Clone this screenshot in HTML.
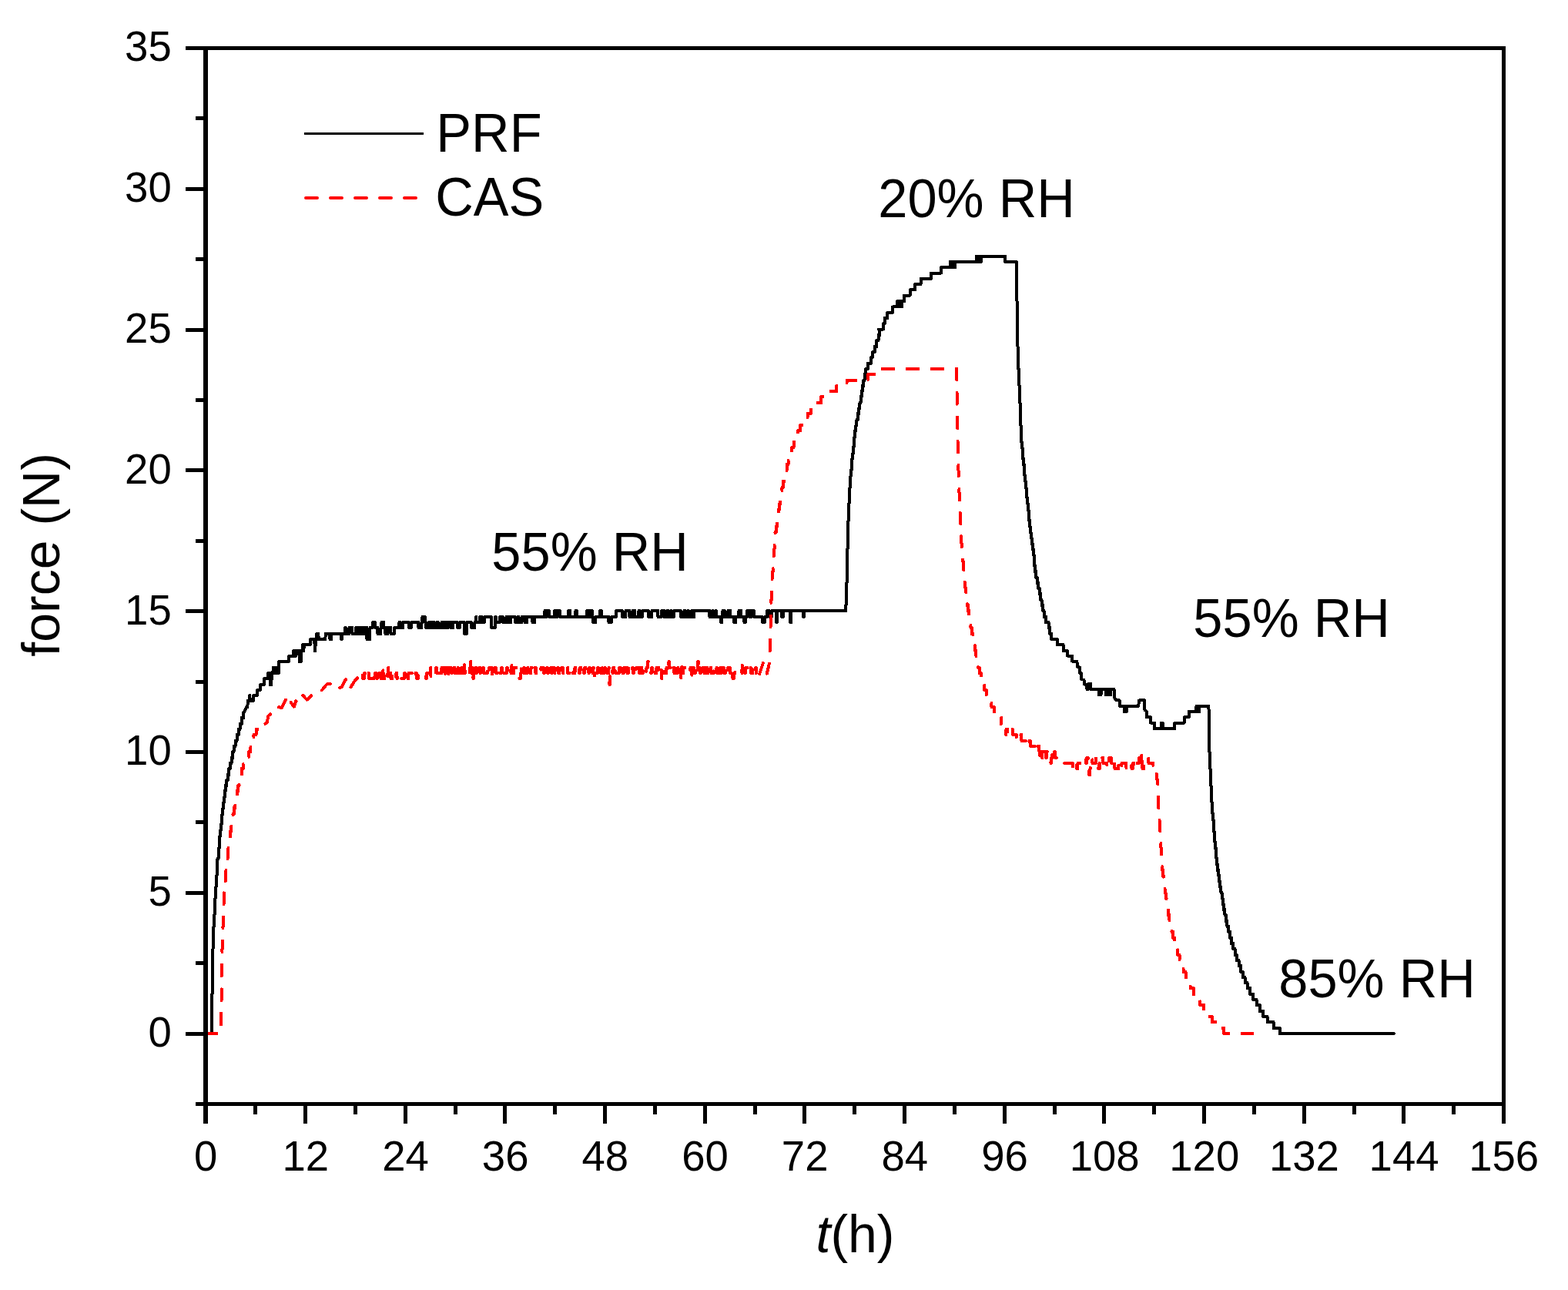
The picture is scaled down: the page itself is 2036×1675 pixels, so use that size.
<!DOCTYPE html>
<html><head><meta charset="utf-8"><title>force vs time</title><style>html,body{margin:0;padding:0;background:#fff;}body{width:2036px;height:1675px;overflow:hidden;}</style></head><body>
<svg width="2036" height="1675" viewBox="0 0 2036 1675" style="display:block">
<rect width="100%" height="100%" fill="#fff"/>
<path d="M266.5,1342L275,1342 275,1298 275.3,1298 275.3,1291 275.6,1291 275.6,1283 275.8,1283 275.8,1276 275.9,1276 275.9,1269 276,1269 276,1262 276.1,1262 276.1,1254 276.2,1254 276.2,1247 276.3,1247 276.3,1240 276.4,1240 276.4,1232 276.6,1232 276.6,1225 276.8,1225 276.8,1218 277.1,1218 277.1,1210 277.4,1210 277.4,1203 277.7,1203 277.7,1196 278.1,1196 278.1,1188 278.5,1188 278.5,1181 278.9,1181 278.9,1174 279.4,1174 279.4,1166 279.8,1166 279.8,1159 280.2,1159 280.2,1152 280.6,1152 280.6,1145 281.1,1145 281.1,1137 281.5,1137 281.5,1130 281.9,1130 281.9,1123 282.4,1123 282.4,1115 283.5,1115 283.5,1108 284.3,1108 284.3,1101 284.8,1101 284.8,1093 285.2,1093 285.2,1086 285.7,1086 285.7,1079 286.5,1079 286.5,1071 287.5,1071 287.5,1064 288.4,1064 288.4,1057 289.4,1057 289.4,1049 290.3,1049 290.3,1042 291,1042 291,1035 291.8,1035 291.8,1027 292.8,1027 292.8,1020 294.3,1020 294.3,1013 295.8,1013 295.8,1006 297.3,1006 297.3,998 298.9,998 298.9,991 300.5,991 300.5,984 302.1,984 302.1,976 303.6,976 303.6,969 305.6,969 305.6,962 307.6,962 307.6,954 309.7,954 309.7,947 311.6,947 311.6,940 313.8,940 313.8,932 316.2,932 316.2,925 316.7,925 320.2,918 321.4,918 321.7,910 323.9,910 324.2,903 324.4,903 324.7,910 328.9,910 329.2,903 333.9,903 334.2,896 337.9,896 338.2,889 342.9,889 343.2,881 347.9,881 348.2,874 350.4,874 350.7,889 352.4,889 352.7,874 354.4,874 354.7,867 355.4,867 355.7,874 356.4,874 356.7,867 359.4,867 359.7,874 361.9,874 362.2,859 374.9,859 375.2,852 380.9,852 381.2,845 383.4,845 383.7,852 383.9,852 384.2,845 388.4,845 388.7,859 390.9,859 391.2,845 392.9,845 393.2,837 393.9,837 394.2,845 394.4,845 394.7,837 402.9,837 403.2,830 408.4,830 408.7,845 409.4,845 409.7,830 410.9,830 411.2,823 413.4,823 413.7,830 422.4,830 422.7,823 428.2,823 428.5,830 430.2,830 430.5,823 442.7,823 443,830 443.7,830 444,823 447.7,823 448,815 448.7,815 449,823 453.2,823 453.5,815 457.2,815 457.5,823 461.7,823 462,815 462.7,815 463,823 465.2,823 465.5,815 466.2,815 466.5,823 468.7,823 469,815 470.7,815 471,823 473.2,823 473.5,815 476.2,815 476.5,830 480.2,830 480.5,815 483.7,815 484,808 486.7,808 487,815 490.2,815 490.5,823 494.2,823 494.5,815 495.2,815 495.5,808 498.2,808 498.5,815 500.2,815 500.5,823 503.2,823 503.5,815 507.2,815 507.5,823 511.7,823 512,815 518.2,815 518.5,808 519.7,808 520,815 523.2,815 523.5,808 530.7,808 531,815 533.7,815 534,808 543.2,808 543.5,815 547.2,815 547.5,808 548.2,808 548.5,801 551.7,801 552,808 552.7,808 553,815 556.7,815 557,808 559.2,808 559.5,815 561.7,815 562,808 563.7,808 564,815 567.2,815 567.5,808 568.7,808 569,815 573.2,815 573.5,808 576.2,808 576.5,815 578.2,815 578.5,808 579.7,808 580,815 581.7,815 582,808 585.2,808 585.5,815 588.2,815 588.5,808 593.7,808 594,815 596.7,815 597,808 602.7,808 603,823 605.7,823 606,808 611.7,808 612,815 616.2,815 616.5,808 617.7,808 618,801 618.2,801 618.5,808 622.7,808 623,801 625.2,801 625.5,808 628.7,808 629,801 637.7,801 638,815 642.7,815 643,801 643.7,801 644,808 648.7,808 649,801 652.7,801 653,808 657.2,808 657.5,801 660.2,801 660.5,808 663.2,808 663.5,801 668.7,801 669,808 671.7,808 672,801 673.2,801 673.5,808 677.2,808 677.5,801 681.2,801 681.5,808 684.2,808 684.5,801 691.2,801 691.5,808 694.2,808 694.5,801 707.2,801 707.5,793 709.2,793 709.5,801 709.7,801 710,793 712.7,793 713,801 719.7,801 720,793 722.2,793 722.5,801 723.2,801 723.5,793 726.7,793 727,801 737.7,801 738,793 740.2,793 740.5,801 747.2,801 747.5,793 748.7,793 749,801 761.7,801 762,793 763.7,793 764,801 766.2,801 766.5,793 768.7,793 769,801 769.7,801 770,808 773.2,808 773.5,801 778.7,801 779,793 780.7,793 781,801 790.2,801 790.5,808 793.7,808 794,801 799.7,801 800,793 807.7,793 808,801 812.2,801 812.5,793 817.2,793 817.5,801 821.2,801 821.5,793 824.2,793 824.5,801 829.2,801 829.5,793 830.7,793 831,801 833.7,801 834,793 841.7,793 842,801 846.2,801 846.5,793 854.2,793 854.5,801 858.7,801 859,793 862.2,793 862.5,801 865.7,801 866,793 867.7,793 868,801 870.7,801 871,793 871.2,793 871.5,801 874.7,801 875,793 883.7,793 884,801 888.2,801 888.5,793 889.7,793 890,801 892.7,801 893,793 893.7,793 894,801 897.7,801 898,793 898.7,793 899,801 901.2,801 901.5,793 921.2,793 921.5,801 924.7,801 925,793 925.7,793 926,801 928.7,801 929,793 929.7,793 930,801 935.7,801 936,808 937.2,808 937.5,801 938.2,801 938.5,793 940.7,793 941,801 945.2,801 945.5,793 948.2,793 948.5,801 952.7,801 953,808 955.2,808 955.5,801 959.2,801 959.5,793 962.2,793 962.5,801 966.2,801 966.5,808 967.7,808 968,801 969.7,801 970,793 972.7,793 973,801 973.7,801 974,793 975.2,793 975.5,801 975.7,801 976,793 978.7,793 979,801 989.7,801 990,808 992.7,808 993,801 995.7,801 996,793 998.7,793 999,801 1001.7,801 1002,793 1007.7,793 1008,808 1008.7,808 1009,793 1014.7,793 1015,801 1016.7,801 1017,793 1025.7,793 1026,808 1027.2,808 1027.5,793 1042.7,793 1043,801 1043.7,801 1044,793 1098.2,793 1098.2,786 1098.5,786 1098.5,779 1098.9,779 1098.9,771 1099.2,771 1099.2,764 1099.3,764 1099.3,757 1099.5,757 1099.5,750 1099.7,750 1099.7,742 1099.8,742 1099.8,735 1100,735 1100,728 1100.2,728 1100.2,720 1100.3,720 1100.3,713 1100.5,713 1100.5,706 1100.8,706 1100.8,698 1101,698 1101,691 1101.2,691 1101.2,684 1101.4,684 1101.4,676 1101.7,676 1101.7,669 1102,669 1102,662 1102.3,662 1102.3,654 1102.6,654 1102.6,647 1102.9,647 1102.9,640 1103.4,640 1103.4,633 1103.9,633 1103.9,625 1104.4,625 1104.4,618 1104.9,618 1104.9,611 1105.5,611 1105.5,603 1106.2,603 1106.2,596 1107,596 1107,589 1107.7,589 1107.7,581 1108.5,581 1108.5,574 1109.4,574 1109.4,567 1110.3,567 1110.3,559 1111.4,559 1111.4,552 1112.4,552 1112.4,545 1113.7,545 1113.7,537 1115.1,537 1115.1,530 1116.4,530 1116.4,523 1117.6,523 1117.6,515 1118.7,515 1118.7,508 1119.8,508 1119.8,501 1121.1,501 1121.1,494 1122.6,494 1122.6,486 1124.1,486 1124.1,479 1126.8,479 1126.8,472 1131,472 1131,464 1133,464 1133,457 1135.7,457 1135.7,450 1138.2,450 1138.2,442 1140.6,442 1140.6,435 1142.4,435 1142.4,428 1142.7,428 1141,427.6 1147,427.6 1147,420.3 1148.6,420.3 1148.6,413 1152.4,413 1152.4,405.7 1159,405.7 1159,398.4 1165,398.4 1165,391.1 1166.5,391.1 1166.5,398.4 1168,398.4 1168,391.1 1169.5,391.1 1169.5,398.4 1171,398.4 1171,391.1 1174,391.1 1174,383.8 1181.6,383.8 1181.6,376.4 1188,376.4 1188,369.1 1195.6,369.1 1195.6,361.8 1209.1,361.8 1209.1,354.5 1222.1,354.5 1222.1,347.2 1234,347.2 1234,339.9 1235.5,339.9 1235.5,347.2 1237,347.2 1237,339.9 1238.5,339.9 1238.5,347.2 1240,347.2 1240,339.9 1268,339.9 1268,332.6 1269.5,332.6 1269.5,339.9 1271,339.9 1271,332.6 1272.5,332.6 1272.5,339.9 1274,339.9 1274,332.6 1305.3,332.6 1305.3,339.9 1319.9,339.9 1319.9,355 1319.9,355 1319.9,362 1320,362 1320,369 1320.1,369 1320.1,377 1320.2,377 1320.2,384 1320.4,384 1320.4,391 1320.5,391 1320.5,398 1320.6,398 1320.6,406 1320.7,406 1320.7,413 1320.8,413 1320.8,420 1320.9,420 1320.9,428 1321,428 1321,435 1321.2,435 1321.2,442 1321.4,442 1321.4,450 1321.5,450 1321.5,457 1321.7,457 1321.7,464 1321.9,464 1321.9,472 1322.1,472 1322.1,479 1322.8,479 1322.8,486 1323.1,486 1323.1,494 1323.4,494 1323.4,501 1323.7,501 1323.7,508 1324,508 1324,515 1324.3,515 1324.3,523 1324.5,523 1324.5,530 1324.8,530 1324.8,537 1325.1,537 1325.1,545 1325.3,545 1325.3,552 1325.6,552 1325.6,559 1325.8,559 1325.8,567 1326.1,567 1326.1,574 1326.8,574 1326.8,581 1327.6,581 1327.6,589 1328.3,589 1328.3,596 1329,596 1329,603 1329.7,603 1329.7,611 1330.4,611 1330.4,618 1331.2,618 1331.2,625 1331.9,625 1331.9,633 1332.6,633 1332.6,640 1333.4,640 1333.4,647 1334.1,647 1334.1,654 1334.9,654 1334.9,662 1335.6,662 1335.6,669 1336.3,669 1336.3,676 1337.1,676 1337.1,684 1337.8,684 1337.8,691 1338.5,691 1338.5,698 1339.6,698 1339.6,706 1340.7,706 1340.7,713 1341.8,713 1341.8,720 1342.6,720 1342.6,728 1343.3,728 1343.3,735 1344,735 1344,742 1345.2,742 1345.2,750 1346.7,750 1346.7,757 1348.2,757 1348.2,764 1349.7,764 1349.7,771 1351.1,771 1351.1,779 1352.6,779 1352.6,786 1354.1,786 1354.1,793 1355.6,793 1355.6,801 1358,801 1358,808 1361.5,808 1361.5,815 1363.2,815 1363.2,823 1365.1,823 1365.1,830 1372.8,830 1372.8,837 1380.5,837 1380.5,845.1 1385.9,845.1 1385.9,851.6 1391.9,851.6 1391.9,858.6 1398.4,858.6 1398.9,865.7 1402.2,866.7 1402.2,874.3 1404.3,874.3 1404.3,881.9 1407.6,883 1408.1,888.3 1410.8,889.4 1411.3,894.8 1413.5,894.8 1413.5,887.5 1416,887.5 1416,894.8 1427,894.8 1427,902.1 1429.5,902.1 1429.5,894.8 1435.5,894.8 1435.5,902.1 1438,902.1 1438,894.8 1439.5,894.8 1439.5,902.1 1442,902.1 1442,894.8 1446.5,894.8 1447,905.6 1449.2,909.4 1453.5,909.4 1454,916.7 1460,916.7 1460,924 1463,924 1463,916.7 1478.3,916.7 1478.9,909.4 1486.4,909.4 1486.4,921.8 1489.1,924 1489.1,931.3 1494,931.3 1494,938.6 1498.9,938.6 1498.9,946 1507.5,946 1507.5,938.6 1509.8,938.6 1509.8,946 1525.3,946 1525.3,938.6 1537.8,938.6 1537.8,931.3 1543.7,931.3 1543.7,924 1552.9,924 1553.5,916.7 1555.5,916.7 1555.5,924 1557.2,924 1557.2,916.7 1569.1,916.7 1569.6,921.8 1569.6,925 1569.6,925 1569.6,932 1569.6,932 1569.6,940 1569.7,940 1569.7,947 1569.7,947 1569.7,954 1569.7,954 1569.7,962 1569.9,962 1569.9,969 1570.2,969 1570.2,976 1570.5,976 1570.5,984 1570.7,984 1570.7,991 1571.1,991 1571.1,998 1571.5,998 1571.5,1006 1571.8,1006 1571.8,1013 1572.2,1013 1572.2,1020 1572.6,1020 1572.6,1027 1573,1027 1573,1035 1573.4,1035 1573.4,1042 1573.9,1042 1573.9,1049 1574.4,1049 1574.4,1057 1575,1057 1575,1064 1575.5,1064 1575.5,1071 1576,1071 1576,1079 1576.6,1079 1576.6,1086 1577.2,1086 1577.2,1093 1577.9,1093 1577.9,1101 1578.7,1101 1578.7,1108 1579.4,1108 1579.4,1115 1580.1,1115 1580.1,1123 1581,1123 1581,1130 1582.1,1130 1582.1,1137 1583.2,1137 1583.2,1145 1584.3,1145 1584.3,1152 1585.4,1152 1585.4,1159 1586.5,1159 1586.5,1166 1587.6,1166 1587.6,1174 1588.9,1174 1588.9,1181 1590.4,1181 1590.4,1188 1591.9,1188 1591.9,1196 1593.4,1196 1593.4,1203 1595.3,1203 1595.3,1210 1597.2,1210 1597.2,1218 1599,1218 1599,1225 1601.3,1225 1601.3,1232 1603.5,1232 1603.5,1240 1605.9,1240 1605.9,1247 1608.6,1247 1608.6,1254 1611.1,1254 1611.1,1262 1613.8,1262 1613.8,1269 1616.6,1269 1616.6,1276 1619.5,1276 1619.5,1283 1623.3,1283 1623.3,1291 1627.1,1291 1627.1,1298 1631.5,1298 1631.5,1305 1635.9,1305 1635.9,1313 1640.3,1313 1640.3,1320 1645.6,1320 1645.6,1327 1653.6,1327 1653.6,1335 1661.9,1335 1661.9,1342 1809.7,1342" fill="none" stroke="#000" stroke-width="4" stroke-linejoin="round" stroke-linecap="round" shape-rendering="crispEdges"/>
<path d="M266.5,1342L287,1342 287,1320 287.1,1320 287.1,1313 287.3,1313 287.3,1305 287.5,1305 287.5,1298 287.7,1298 287.7,1291 287.8,1291 287.8,1254 288,1254 288,1247 288.2,1247 288.2,1240 288.4,1240 288.4,1232 288.7,1232 288.7,1225 288.9,1225 288.9,1218 289.1,1218 289.1,1210 289.4,1210 289.4,1203 289.7,1203 289.7,1196 289.9,1196 289.9,1188 290.1,1188 290.1,1181 290.4,1181 290.4,1174 290.6,1174 290.6,1166 290.8,1166 290.8,1159 291.3,1159 291.3,1152 292,1152 292,1145 292.7,1145 292.7,1137 293.4,1137 293.4,1130 294.1,1130 294.1,1123 294.9,1123 294.9,1115 295.6,1115 295.6,1108 296.4,1108 296.4,1101 297.3,1101 297.3,1093 298.3,1093 298.3,1086 299.2,1086 299.2,1079 300.2,1079 300.2,1071 301.1,1071 301.1,1064 302.4,1064 302.4,1057 303.9,1057 303.9,1049 305.2,1049 305.2,1042 306.6,1042 306.6,1035 307.9,1035 307.9,1027 309.2,1027 309.2,1020 310.5,1020 310.5,1013 312.1,1013 312.1,1006 313.9,1006 313.9,998 315.7,998 315.7,991 318.5,991 318.5,984 323.3,984 323.3,976 325.4,976 325.4,969 327.5,969 327.5,962 329.4,962 329.4,954 332.6,954 332.6,947 342,947 342,940 344,940 346.6,938.5 348.4,929.6 355.5,923.6 357.3,917.6 365.7,918.8 369.3,911.6 374.6,902.7 376.4,910.4 381.8,917.6 384.2,910.4 390.1,912.8 393.1,902.7 398.5,908.7 404.1,903.2 414.3,901.7 416.7,897.7 424.5,888.3 432.4,887.5 437.9,895.4 444.2,891.4 448.9,882 453.6,895.4 459.9,885.1 469.3,874.1 470,877 470,874 470.7,874 471,881 472.7,881 473,874 473.7,874 474,881 477.7,881 478,874 478.7,874 479,881 485.2,881 485.5,874 485.7,874 486,881 486.7,881 487,874 488.7,874 489,881 489.7,881 490,874 490.2,874 490.5,881 492.2,881 492.5,874 494.2,874 494.5,881 495.2,881 495.5,874 496.2,874 496.5,867 497.2,867 497.5,874 497.7,874 498,881 499.2,881 499.5,874 501.2,874 501.5,881 503.2,881 503.5,874 503.7,874 504,867 504.2,867 504.5,874 504.7,874 505,881 506.2,881 506.5,874 507.2,874 507.5,881 509.2,881 509.5,874 511.2,874 511.5,881 514.2,881 514.5,874 515.2,874 515.5,881 515.7,881 516,874 516.7,874 517,881 524.7,881 525,874 525.7,874 526,881 526.2,881 526.5,874 529.2,874 529.5,881 530.2,881 530.5,874 538.2,874 538.5,881 539.2,881 539.5,874 540.7,874 541,881 542.7,881 543,874 552.7,874 553,881 553.7,881 554,874 557.7,874 558,881 558.7,881 559,867 559.2,867 559.5,881 559.7,881 560,874 565.7,874 566,867 566.7,867 567,874 568.7,874 569,881 569.7,881 570,874 573.2,874 573.5,867 575.2,867 575.5,874 576.7,874 577,881 577.7,881 578,874 578.2,874 578.5,867 579.2,867 579.5,874 580.2,874 580.5,867 581.2,867 581.5,874 581.7,874 582,867 582.2,867 582.5,881 583.2,881 583.5,874 585.2,874 585.5,867 585.7,867 586,874 586.7,874 587,867 587.7,867 588,874 588.7,874 589,867 590.2,867 590.5,874 592.2,874 592.5,867 592.7,867 593,874 594.2,874 594.5,867 594.7,867 595,874 596.2,874 596.5,867 597.7,867 598,874 598.7,874 599,867 599.2,867 599.5,874 600.2,874 600.5,867 602.2,867 602.5,859 602.7,859 603,874 603.7,874 604,867 605.2,867 605.5,874 609.7,874 610,867 610.7,867 611,859 611.7,859 612,874 612.2,874 612.5,867 613.2,867 613.5,881 613.7,881 614,874 614.2,874 614.5,881 614.7,881 615,867 615.7,867 616,874 616.7,874 617,867 618.2,867 618.5,874 618.7,874 619,867 620.7,867 621,874 621.7,874 622,867 623.2,867 623.5,874 623.7,874 624,867 626.7,867 627,874 627.2,874 627.5,867 627.7,867 628,874 632.7,874 633,867 633.7,867 634,874 634.7,874 635,867 638.7,867 639,881 639.7,881 640,874 641.7,874 642,867 643.7,867 644,874 647.2,874 647.5,867 648.7,867 649,874 650.7,874 651,867 651.7,867 652,874 653.7,874 654,867 654.2,867 654.5,874 657.7,874 658,867 658.7,867 659,874 659.7,874 660,867 663.2,867 663.5,874 664.2,874 664.5,859 665.2,859 665.5,867 666.2,867 666.5,874 667.2,874 667.5,867 673.2,867 673.5,874 674.2,874 674.5,881 675.7,881 676,874 676.7,874 677,867 678.7,867 679,874 679.7,874 680,867 680.2,867 680.5,874 681.2,874 681.5,867 681.7,867 682,874 682.2,874 682.5,867 683.2,867 683.5,874 684.7,874 685,867 685.2,867 685.5,874 687.2,874 687.5,867 688.2,867 688.5,874 689.2,874 689.5,867 690.7,867 691,874 692.7,874 693,867 695.2,867 695.5,874 696.2,874 696.5,867 696.7,867 697,874 702.2,874 702.5,867 705.7,867 706,874 706.7,874 707,867 707.7,867 708,874 709.7,874 710,867 710.7,867 711,874 711.7,874 712,867 712.2,867 712.5,874 714.7,874 715,867 715.7,867 716,874 716.7,874 717,867 717.2,867 717.5,874 718.2,874 718.5,867 719.7,867 720,874 720.2,874 720.5,867 722.7,867 723,874 723.7,874 724,867 724.7,867 725,874 726.2,874 726.5,867 726.7,867 727,874 728.7,874 729,867 730.7,867 731,874 731.2,874 731.5,867 735.7,867 736,874 736.7,874 737,867 737.2,867 737.5,874 739.2,874 739.5,867 743.2,867 743.5,874 746.2,874 746.5,867 747.2,867 747.5,874 747.7,874 748,867 751.7,867 752,874 752.7,874 753,867 754.2,867 754.5,874 755.2,874 755.5,867 757.7,867 758,874 758.7,874 759,867 760.2,867 760.5,874 760.7,874 761,867 764.2,867 764.5,874 764.7,874 765,867 765.7,867 766,874 766.7,874 767,867 769.2,867 769.5,874 769.7,874 770,867 770.7,867 771,881 771.7,881 772,874 775.7,874 776,867 776.7,867 777,874 778.7,874 779,867 779.7,867 780,874 781.7,874 782,867 783.2,867 783.5,874 783.7,874 784,867 784.2,867 784.5,874 784.7,874 785,867 785.7,867 786,874 786.7,874 787,867 788.2,867 788.5,874 790.2,874 790.5,867 790.7,867 791,881 791.2,881 791.5,889 791.7,889 792,881 792.2,881 792.5,867 795.2,867 795.5,874 795.7,874 796,867 797.2,867 797.5,874 798.2,874 798.5,867 799.2,867 799.5,874 803.7,874 804,867 805.7,867 806,874 807.2,874 807.5,867 808.2,867 808.5,874 809.7,874 810,867 811.7,867 812,874 813.2,874 813.5,867 814.2,867 814.5,874 815.7,874 816,867 818.2,867 818.5,874 820.7,874 821,867 821.7,867 822,874 822.7,874 823,867 823.7,867 824,874 825.7,874 826,867 829.7,867 830,874 830.2,874 830.5,867 830.7,867 831,874 831.2,874 831.5,867 833.2,867 833.5,874 834.7,874 835,867 835.7,867 836,874 839.2,874 839.5,867 840.7,867 841,859 842.7,859 843,867 844.7,867 845,874 845.7,874 846,867 846.7,867 847,874 847.7,874 848,867 850.2,867 850.5,874 852.2,874 852.5,867 855.2,867 855.5,874 857.7,874 858,867 858.7,867 859,881 859.2,881 859.5,867 861.7,867 862,874 865.2,874 865.5,867 866.7,867 867,874 867.7,874 868,867 868.2,867 868.5,859 868.7,859 869,867 872.7,867 873,874 873.7,874 874,867 875.2,867 875.5,874 876.2,874 876.5,867 876.7,867 877,874 877.2,874 877.5,867 878.7,867 879,874 879.7,874 880,867 880.2,867 880.5,874 883.2,874 883.5,881 884.2,881 884.5,867 885.2,867 885.5,859 885.7,859 886,867 886.2,867 886.5,874 887.2,874 887.5,867 894.2,867 894.5,874 896.2,874 896.5,867 898.2,867 898.5,881 898.7,881 899,874 899.7,874 900,867 900.7,867 901,874 902.7,874 903,867 903.7,867 904,874 905.7,874 906,859 906.7,859 907,874 907.7,874 908,867 908.7,867 909,874 909.7,874 910,867 910.2,867 910.5,874 912.2,874 912.5,867 914.2,867 914.5,874 915.2,874 915.5,867 915.7,867 916,874 916.2,874 916.5,867 918.2,867 918.5,874 919.2,874 919.5,867 920.2,867 920.5,874 922.2,874 922.5,867 923.2,867 923.5,874 926.7,874 927,867 929.2,867 929.5,874 930.2,874 930.5,867 930.7,867 931,874 932.2,874 932.5,867 933.2,867 933.5,874 934.7,874 935,867 935.2,867 935.5,874 936.2,874 936.5,867 937.2,867 937.5,874 938.2,874 938.5,867 939.7,867 940,874 941.7,874 942,867 942.7,867 943,874 944.7,874 945,867 947.7,867 948,874 949.7,874 950,867 950.7,867 951,874 951.2,874 951.5,881 952.7,881 953,874 954.2,874 954.5,867 963.2,867 963.5,874 963.7,874 964,859 964.7,859 965,867 966.7,867 967,874 967.7,874 968,867 970.2,867 970.5,874 974.2,874 974.5,867 974.7,867 975,874 977.2,874 977.5,867 979.2,867 979.5,874 980.7,874 981,867 981.7,867 982,874" fill="none" stroke="#f00" stroke-width="4" stroke-dasharray="15 17" stroke-dashoffset="0.00" stroke-linejoin="round" stroke-linecap="round" shape-rendering="crispEdges"/>
<path d="M982,874L982.3,881.7 984.4,880.3 991.6,858.8 995.9,874.6 999.5,858.8 999.5,859 999.6,859 999.6,852 999.7,852 999.7,845 999.9,845 999.9,837 1000.1,837 1000.1,830 1000.2,830 1000.2,823 1000.4,823 1000.4,815 1000.5,815 1000.5,808 1000.7,808 1000.7,801 1000.9,801 1000.9,793 1001.1,793 1001.1,786 1001.3,786 1001.3,779 1001.7,779 1001.7,771 1002,771 1002,764 1002.3,764 1002.3,757 1002.6,757 1002.6,750 1003.1,750 1003.1,742 1003.7,742 1003.7,735 1004.2,735 1004.2,728 1004.7,728 1004.7,720 1005.1,720 1005.1,713 1005.5,713 1005.5,706 1005.9,706 1005.9,698 1006.4,698 1006.4,691 1007.7,691 1007.7,684 1008.9,684 1008.9,676 1009.9,676 1009.9,669 1010.9,669 1010.9,662 1012,662 1012,654 1013.1,654 1013.1,647 1014.2,647 1014.2,640 1015.4,640 1015.4,633 1016.8,633 1016.8,625 1018.2,625 1018.2,618 1019.8,618 1019.8,611 1021.6,611 1021.6,603 1023.6,603 1023.6,596 1025.7,596 1025.7,589 1028.1,589 1028.1,581 1030.5,581 1030.5,574 1033.2,574 1033.2,567 1036.1,567 1036.1,559 1039.1,559 1039.1,552 1042.9,552 1042.9,545 1048.6,545 1048.6,537 1053,537 1053,530 1058.8,530 1058.8,523 1066.2,523 1066.2,515 1074.5,515 1074.5,508 1086.3,508 1086.3,501 1099.5,501 1099.5,494 1127.3,494 1127.3,486 1140.5,486 1140.5,478.9 1242,478.9 1242,479 1242.1,479 1242.1,486 1242.2,486 1242.2,494 1242.3,494 1242.3,501 1242.4,501 1242.4,508 1242.5,508 1242.5,515 1242.6,515 1242.6,523 1242.7,523 1242.7,530 1242.8,530 1242.8,537 1242.9,537 1242.9,545 1243.1,545 1243.1,552 1243.2,552 1243.2,559 1243.3,559 1243.3,567 1243.5,567 1243.5,574 1243.7,574 1243.7,581 1243.9,581 1243.9,589 1244,589 1244,596 1244.2,596 1244.2,603 1244.4,603 1244.4,611 1244.6,611 1244.6,618 1244.8,618 1244.8,625 1245.1,625 1245.1,633 1245.4,633 1245.4,640 1245.7,640 1245.7,647 1246,647 1246,654 1246.3,654 1246.3,662 1246.6,662 1246.6,669 1246.9,669 1246.9,676 1247.3,676 1247.3,684 1247.7,684 1247.7,691 1248.1,691 1248.1,698 1248.4,698 1248.4,706 1248.8,706 1248.8,713 1249.3,713 1249.3,720 1249.9,720 1249.9,728 1250.5,728 1250.5,735 1251.1,735 1251.1,742 1251.7,742 1251.7,750 1252.5,750 1252.5,757 1253.4,757 1253.4,764 1254.3,764 1254.3,771 1255.1,771 1255.1,779 1256,779 1256,786 1257,786 1257,793 1258,793 1258,801 1259,801 1259,808 1260.4,808 1260.4,815 1261.8,815 1261.8,823 1263.2,823 1263.2,830 1264.7,830 1264.7,837 1266.1,837 1266.1,845 1267.4,845 1267.4,852 1268.8,852 1268.8,859 1270.1,859 1270.1,867 1271.7,867 1271.7,874 1273.9,874 1273.9,881 1276.1,881 1276.1,889 1278.3,889 1278.3,896 1280.8,896 1280.8,903 1284.1,903 1284.1,910 1287.4,910 1287.4,918 1290.9,918 1290.9,925 1295.3,925 1295.3,932 1299.7,932 1299.7,940" fill="none" stroke="#f00" stroke-width="4" stroke-dasharray="15 17" stroke-dashoffset="16.32" stroke-linejoin="round" stroke-linecap="round" shape-rendering="crispEdges"/>
<path d="M1299.7,940L1300,932 1300.2,932 1300.5,940 1302.7,940 1303,947 1305.7,947 1306,954 1306.2,954 1306.5,947 1308.2,947 1308.5,954 1313.2,954 1313.5,947 1314.7,947 1315,954 1319.7,954 1320,962 1325.2,962 1325.5,954 1326.2,954 1326.5,962 1332.2,962 1332.5,969 1336.2,969 1336.5,962 1337.7,962 1338,969 1344.2,969 1344.5,976 1346.2,976 1346.5,969 1349.2,969 1349.5,976 1350.2,976 1350.5,984 1351.7,984 1352,976 1352.7,976 1353,984 1353.2,984 1353.5,976 1356.7,976 1357,969 1357.7,969 1358,984 1358.7,984 1359,976 1360.2,976 1360.5,984 1364.2,984 1364.5,991 1364.7,991 1365,984 1366.2,984 1366.5,976 1367.7,976 1368,984 1368.7,984 1369,976 1369.7,976 1370,984 1377.7,984 1378,991 1392.7,991 1393,998 1393.7,998 1394,991 1397.7,991 1398,998 1399.2,998 1399.5,991 1407.7,991 1408,984 1409.7,984 1410,991 1410.7,991 1411,984 1412.7,984 1413,991 1413.7,991 1414,1006 1415.2,1006 1415.5,998 1415.7,998 1416,991 1417.2,991 1417.5,984 1418.2,984 1418.5,991 1422.7,991 1423,984 1424.7,984 1425,991 1425.7,991 1426,998 1427.2,998 1427.5,991 1427.7,991 1428,998 1428.2,998 1428.5,991 1430.7,991 1431,984 1432.2,984 1432.5,991 1437.2,991 1437.5,998 1438.2,998 1438.5,991 1439.7,991 1440,984 1442.7,984 1443,991 1443.7,991 1444,984 1444.7,984 1445,991 1447.2,991 1447.5,998 1452.2,998 1452.5,991 1454.7,991 1455,998 1456.2,998 1456.5,991 1462.2,991 1462.5,998 1465.2,998 1465.5,991 1469.2,991 1469.5,998 1470.7,998 1471,991 1472.2,991 1472.5,998 1473.7,998 1474,991 1478.7,991 1479,984 1482.2,984 1482.5,976 1482.7,976 1483,991 1483.2,991 1483.5,998 1485.2,998 1485.5,991 1490.2,991 1490.5,984 1491.2,984 1491.5,991 1497.2,991 1497.5,998 1498.2,998 1498.5,991 1501,991" fill="none" stroke="#f00" stroke-width="4" stroke-dasharray="15 17" stroke-dashoffset="0.00" stroke-linejoin="round" stroke-linecap="round" shape-rendering="crispEdges"/>
<path d="M1501,991L1501.1,991 1501.1,998 1501.8,998 1501.8,1006 1502.4,1006 1502.4,1013 1503.2,1013 1503.2,1020 1503.5,1020 1503.5,1027 1503.7,1027 1503.7,1035 1504,1035 1504,1042 1504.2,1042 1504.2,1049 1504.5,1049 1504.5,1057 1505,1057 1505,1064 1505.5,1064 1505.5,1071 1506.1,1071 1506.1,1079 1506.6,1079 1506.6,1086 1507,1086 1507,1093 1507.4,1093 1507.4,1101 1507.7,1101 1507.7,1108 1508.1,1108 1508.1,1115 1508.5,1115 1508.5,1123 1509.3,1123 1509.3,1130 1510,1130 1510,1137 1510.8,1137 1510.8,1145 1511.7,1145 1511.7,1152 1512.6,1152 1512.6,1159 1513.6,1159 1513.6,1166 1514.6,1166 1514.6,1174 1515.6,1174 1515.6,1181 1517,1181 1517,1188 1518.4,1188 1518.4,1196 1519.9,1196 1519.9,1203 1521.4,1203 1521.4,1210 1523.2,1210 1523.2,1218 1525,1218 1525,1225 1526.9,1225 1526.9,1232 1529.2,1232 1529.2,1240 1531.5,1240 1531.5,1247 1533.9,1247 1533.9,1254 1536.6,1254 1536.6,1262 1539.6,1262 1539.6,1269 1542.6,1269 1542.6,1276 1545.7,1276 1545.7,1283 1549.8,1283 1549.8,1291 1553.9,1291 1553.9,1298 1558.2,1298 1558.2,1305 1563,1305 1563,1313 1567.9,1313 1567.9,1320 1573.9,1320 1573.9,1327 1581.9,1327 1581.9,1335 1589.2,1335 1589.2,1342 1626.3,1342" fill="none" stroke="#f00" stroke-width="4" stroke-dasharray="15 17" stroke-dashoffset="17.50" stroke-linejoin="round" stroke-linecap="round" shape-rendering="crispEdges"/>
<g fill="#000"><rect x="241" y="60" width="1714" height="5"/><rect x="254" y="1431" width="1701" height="5"/><rect x="264" y="60" width="6" height="1399"/><rect x="1950" y="60" width="5" height="1399"/><rect x="254" y="151" width="11" height="5"/><rect x="241" y="243" width="24" height="5"/><rect x="254" y="334" width="11" height="5"/><rect x="241" y="426" width="24" height="5"/><rect x="254" y="517" width="11" height="5"/><rect x="241" y="608" width="24" height="5"/><rect x="254" y="700" width="11" height="5"/><rect x="241" y="791" width="24" height="5"/><rect x="254" y="883" width="11" height="5"/><rect x="241" y="974" width="24" height="5"/><rect x="254" y="1065" width="11" height="5"/><rect x="241" y="1157" width="24" height="5"/><rect x="254" y="1248" width="11" height="5"/><rect x="241" y="1340" width="24" height="5"/><rect x="329" y="1435" width="5" height="12"/><rect x="394" y="1435" width="5" height="24"/><rect x="459" y="1435" width="5" height="12"/><rect x="524" y="1435" width="5" height="24"/><rect x="589" y="1435" width="5" height="12"/><rect x="653" y="1435" width="5" height="24"/><rect x="718" y="1435" width="5" height="12"/><rect x="783" y="1435" width="5" height="24"/><rect x="848" y="1435" width="5" height="12"/><rect x="913" y="1435" width="5" height="24"/><rect x="978" y="1435" width="5" height="12"/><rect x="1042" y="1435" width="5" height="24"/><rect x="1107" y="1435" width="5" height="12"/><rect x="1172" y="1435" width="5" height="24"/><rect x="1237" y="1435" width="5" height="12"/><rect x="1302" y="1435" width="5" height="24"/><rect x="1367" y="1435" width="5" height="12"/><rect x="1431" y="1435" width="5" height="24"/><rect x="1496" y="1435" width="5" height="12"/><rect x="1561" y="1435" width="5" height="24"/><rect x="1626" y="1435" width="5" height="12"/><rect x="1691" y="1435" width="5" height="24"/><rect x="1756" y="1435" width="5" height="12"/><rect x="1820" y="1435" width="5" height="24"/><rect x="1885" y="1435" width="5" height="12"/></g>
<g font-family="'Liberation Sans', Arial, sans-serif" fill="#000"><text transform="translate(222.72,79.40) scale(1,1.03)" font-size="54.5" text-anchor="end">35</text><text transform="translate(222.72,262.20) scale(1,1.03)" font-size="54.5" text-anchor="end">30</text><text transform="translate(222.72,445.00) scale(1,1.03)" font-size="54.5" text-anchor="end">25</text><text transform="translate(222.72,627.80) scale(1,1.03)" font-size="54.5" text-anchor="end">20</text><text transform="translate(222.72,810.60) scale(1,1.03)" font-size="54.5" text-anchor="end">15</text><text transform="translate(222.72,993.40) scale(1,1.03)" font-size="54.5" text-anchor="end">10</text><text transform="translate(222.72,1176.20) scale(1,1.03)" font-size="54.5" text-anchor="end">5</text><text transform="translate(222.72,1359.00) scale(1,1.03)" font-size="54.5" text-anchor="end">0</text><text transform="translate(267.21,1520.44) scale(1,1.03)" font-size="54.5" text-anchor="middle">0</text><text transform="translate(396.87,1520.44) scale(1,1.03)" font-size="54.5" text-anchor="middle">12</text><text transform="translate(526.52,1520.44) scale(1,1.03)" font-size="54.5" text-anchor="middle">24</text><text transform="translate(656.17,1520.44) scale(1,1.03)" font-size="54.5" text-anchor="middle">36</text><text transform="translate(785.83,1520.44) scale(1,1.03)" font-size="54.5" text-anchor="middle">48</text><text transform="translate(915.48,1520.44) scale(1,1.03)" font-size="54.5" text-anchor="middle">60</text><text transform="translate(1045.14,1520.44) scale(1,1.03)" font-size="54.5" text-anchor="middle">72</text><text transform="translate(1174.79,1520.44) scale(1,1.03)" font-size="54.5" text-anchor="middle">84</text><text transform="translate(1304.44,1520.44) scale(1,1.03)" font-size="54.5" text-anchor="middle">96</text><text transform="translate(1434.10,1520.44) scale(1,1.03)" font-size="54.5" text-anchor="middle">108</text><text transform="translate(1563.75,1520.44) scale(1,1.03)" font-size="54.5" text-anchor="middle">120</text><text transform="translate(1693.40,1520.44) scale(1,1.03)" font-size="54.5" text-anchor="middle">132</text><text transform="translate(1823.06,1520.44) scale(1,1.03)" font-size="54.5" text-anchor="middle">144</text><text transform="translate(1952.71,1520.44) scale(1,1.03)" font-size="54.5" text-anchor="middle">156</text><text transform="translate(76.80,720.45) rotate(-90)" font-size="68" text-anchor="middle">force (N)</text><text transform="translate(1059.50,1625.50)" font-size="68"><tspan font-style="italic">t</tspan>(h)</text><text transform="translate(566.35,196.90) scale(1,1.035)" font-size="68.6">PRF</text><text transform="translate(565.25,279.60) scale(1,1.035)" font-size="68.6">CAS</text><text transform="translate(1140.30,282.00) scale(1,1.035)" font-size="68.6">20% RH</text><text transform="translate(638.35,741.05) scale(1,1.035)" font-size="68.6">55% RH</text><text transform="translate(1549.35,827.00) scale(1,1.035)" font-size="68.6">55% RH</text><text transform="translate(1660.30,1294.85) scale(1,1.035)" font-size="68.6">85% RH</text></g>
<rect x="395" y="172" width="155" height="3" fill="#000"/>
<line x1="397" y1="257" x2="548" y2="257" stroke="#f00" stroke-width="4" stroke-dasharray="15 17" stroke-linecap="round"/>
</svg>
</body></html>
